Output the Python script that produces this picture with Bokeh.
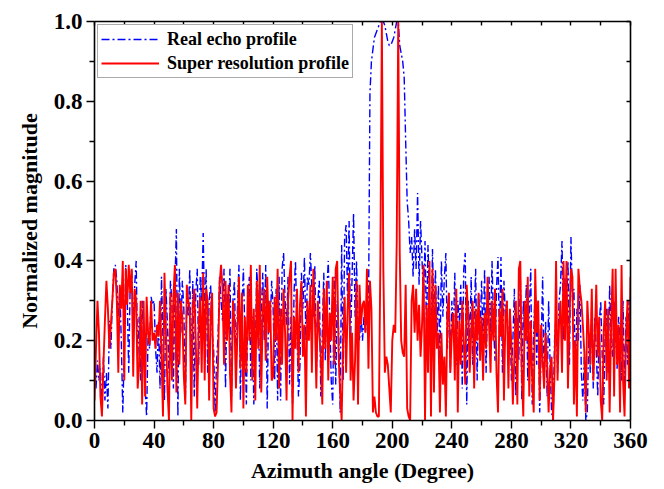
from bokeh.plotting import figure
from bokeh.models import (ColumnDataSource, LinearAxis, FixedTicker, Legend, LegendItem, Range1d,
                          CustomJSTickFormatter)
from bokeh.embed import file_html
from bokeh.resources import INLINE

# Azimuth grid (degrees)
angle = list(range(0, 361))

# Real echo profile (blue dash-dot)
real_echo = [
    0.16, 0.08, 0.15, 0.10, 0.13, 0.03, 0.16, 0.05, 0.12, 0.03,
    0.25, 0.18, 0.30, 0.38, 0.39, 0.35, 0.26, 0.33, 0.20, 0.02,
    0.18, 0.39, 0.30, 0.12, 0.35, 0.38, 0.22, 0.34, 0.40, 0.15,
    0.26, 0.10, 0.30, 0.20, 0.08, 0.01, 0.22, 0.18, 0.31, 0.29,
    0.30, 0.18, 0.12, 0.25, 0.08, 0.36, 0.20, 0.05, 0.33, 0.24,
    0.12, 0.35, 0.30, 0.08, 0.34, 0.48, 0.01, 0.38, 0.22, 0.35,
    0.28, 0.05, 0.31, 0.26, 0.38, 0.10, 0.35, 0.06, 0.32, 0.38,
    0.14, 0.36, 0.30, 0.47, 0.25, 0.38, 0.12, 0.30, 0.34, 0.22,
    0.18, 0.02, 0.15, 0.21, 0.36, 0.30, 0.25, 0.38, 0.08, 0.32,
    0.26, 0.38, 0.06, 0.30, 0.35, 0.12, 0.28, 0.39, 0.05, 0.28,
    0.38, 0.22, 0.04, 0.31, 0.36, 0.10, 0.26, 0.04, 0.15, 0.38,
    0.30, 0.08, 0.27, 0.37, 0.20, 0.39, 0.03, 0.30, 0.24, 0.35,
    0.28, 0.10, 0.33, 0.05, 0.36, 0.05, 0.38, 0.42, 0.30, 0.24,
    0.36, 0.09, 0.26, 0.04, 0.32, 0.40, 0.22, 0.06, 0.14, 0.37,
    0.28, 0.41, 0.20, 0.36, 0.34, 0.42, 0.33, 0.26, 0.39, 0.12,
    0.30, 0.35, 0.06, 0.22, 0.37, 0.15, 0.32, 0.40, 0.26, 0.10,
    0.04, 0.36, 0.09, 0.30, 0.22, 0.02, 0.44, 0.10, 0.46, 0.49,
    0.30, 0.50, 0.20, 0.36, 0.52, 0.26, 0.40, 0.24, 0.20, 0.27,
    0.20, 0.26, 0.22, 0.27, 0.25, 0.82, 0.90, 0.93, 0.96, 0.97,
    0.98, 0.99, 1.00, 1.00, 1.00, 0.99, 0.97, 0.95, 0.94, 0.94,
    0.95, 0.96, 0.98, 1.00, 1.00, 0.94, 0.92, 0.90, 0.86, 0.70,
    0.55, 0.50, 0.42, 0.46, 0.36, 0.48, 0.38, 0.57, 0.34, 0.50,
    0.40, 0.30, 0.45, 0.22, 0.44, 0.30, 0.18, 0.43, 0.25, 0.38,
    0.20, 0.34, 0.15, 0.40, 0.26, 0.36, 0.42, 0.18, 0.32, 0.12,
    0.30, 0.22, 0.37, 0.14, 0.30, 0.25, 0.34, 0.08, 0.38, 0.42,
    0.04, 0.30, 0.20, 0.36, 0.14, 0.26, 0.38, 0.10, 0.32, 0.22,
    0.35, 0.18, 0.38, 0.12, 0.30, 0.36, 0.20, 0.40, 0.24, 0.15,
    0.33, 0.41, 0.20, 0.41, 0.12, 0.35, 0.26, 0.30, 0.14, 0.28,
    0.10, 0.20, 0.33, 0.06, 0.26, 0.15, 0.36, 0.05, 0.30, 0.20,
    0.34, 0.10, 0.27, 0.38, 0.04, 0.22, 0.33, 0.14, 0.30, 0.02,
    0.18, 0.36, 0.10, 0.25, 0.06, 0.30, 0.14, 0.02, 0.00, 0.20,
    0.26, 0.12, 0.30, 0.34, 0.45, 0.20, 0.36, 0.28, 0.40, 0.14,
    0.46, 0.30, 0.33, 0.10, 0.28, 0.20, 0.34, 0.12, 0.05, 0.16,
    0.00, 0.02, 0.22, 0.12, 0.30, 0.08, 0.26, 0.18, 0.06, 0.24,
    0.30, 0.16, 0.04, 0.22, 0.28, 0.12, 0.34, 0.20, 0.16, 0.30,
    0.22, 0.13, 0.26, 0.20, 0.10, 0.30, 0.08, 0.26, 0.14, 0.30,
    0.20,
]

# Super resolution profile (red solid)
super_res = [
    0.05, 0.18, 0.30, 0.22, 0.06, 0.01, 0.14, 0.25, 0.35, 0.28,
    0.18, 0.24, 0.30, 0.37, 0.38, 0.30, 0.12, 0.34, 0.28, 0.40,
    0.10, 0.38, 0.29, 0.39, 0.32, 0.38, 0.11, 0.33, 0.30, 0.08,
    0.14, 0.30, 0.04, 0.30, 0.06, 0.31, 0.22, 0.19, 0.30, 0.20,
    0.22, 0.18, 0.24, 0.21, 0.30, 0.16, 0.01, 0.37, 0.22, 0.08,
    0.00, 0.32, 0.10, 0.31, 0.39, 0.07, 0.32, 0.14, 0.30, 0.26,
    0.11, 0.04, 0.34, 0.30, 0.28, 0.00, 0.28, 0.33, 0.20, 0.03,
    0.24, 0.31, 0.12, 0.37, 0.10, 0.33, 0.30, 0.05, 0.26, 0.32,
    0.03, 0.01, 0.02, 0.15, 0.34, 0.39, 0.33, 0.14, 0.35, 0.20,
    0.34, 0.12, 0.02, 0.30, 0.25, 0.08, 0.22, 0.36, 0.13, 0.32,
    0.03, 0.26, 0.12, 0.34, 0.20, 0.39, 0.10, 0.28, 0.05, 0.35,
    0.18, 0.39, 0.07, 0.27, 0.33, 0.15, 0.36, 0.22, 0.30, 0.10,
    0.11, 0.31, 0.20, 0.38, 0.08, 0.28, 0.14, 0.33, 0.22, 0.05,
    0.30, 0.36, 0.40, 0.00, 0.26, 0.18, 0.33, 0.12, 0.29, 0.35,
    0.16, 0.24, 0.01, 0.30, 0.20, 0.34, 0.12, 0.38, 0.26, 0.08,
    0.30, 0.22, 0.16, 0.04, 0.33, 0.18, 0.35, 0.10, 0.27, 0.20,
    0.36, 0.14, 0.38, 0.40, 0.16, 0.07, 0.00, 0.20, 0.31, 0.12,
    0.28, 0.37, 0.10, 0.22, 0.05, 0.15, 0.35, 0.04, 0.34, 0.24,
    0.29, 0.30, 0.22, 0.38, 0.13, 0.35, 0.28, 0.02, 0.06, 0.02,
    0.01, 0.01, 0.40, 1.00, 0.38, 0.12, 0.16, 0.14, 0.08, 0.02,
    0.20, 0.24, 0.22, 0.45, 1.00, 0.42, 0.20, 0.17, 0.16, 0.34,
    0.03, 0.01, 0.00, 0.30, 0.34, 0.22, 0.33, 0.20, 0.29, 0.16,
    0.24, 0.39, 0.00, 0.29, 0.12, 0.40, 0.01, 0.38, 0.07, 0.34,
    0.18, 0.22, 0.02, 0.22, 0.09, 0.16, 0.01, 0.27, 0.32, 0.12,
    0.22, 0.27, 0.10, 0.33, 0.02, 0.25, 0.14, 0.30, 0.20, 0.09,
    0.34, 0.26, 0.12, 0.22, 0.30, 0.08, 0.28, 0.20, 0.32, 0.15,
    0.26, 0.10, 0.27, 0.18, 0.36, 0.24, 0.12, 0.30, 0.20, 0.33,
    0.12, 0.02, 0.28, 0.21, 0.33, 0.05, 0.26, 0.30, 0.08, 0.28,
    0.19, 0.04, 0.16, 0.30, 0.04, 0.38, 0.40, 0.12, 0.01, 0.30,
    0.20, 0.36, 0.06, 0.25, 0.10, 0.02, 0.38, 0.22, 0.30, 0.05,
    0.24, 0.15, 0.08, 0.22, 0.14, 0.02, 0.13, 0.16, 0.00, 0.12,
    0.40, 0.10, 0.24, 0.30, 0.12, 0.40, 0.20, 0.40, 0.08, 0.25,
    0.38, 0.36, 0.04, 0.20, 0.01, 0.38, 0.33, 0.30, 0.24, 0.17,
    0.02, 0.30, 0.22, 0.14, 0.33, 0.10, 0.20, 0.34, 0.16, 0.26,
    0.05, 0.00, 0.22, 0.30, 0.10, 0.28, 0.02, 0.24, 0.38, 0.06,
    0.38, 0.14, 0.24, 0.02, 0.39, 0.10, 0.01, 0.21, 0.30, 0.08,
    0.36,
]

x_major = [0, 40, 80, 120, 160, 200, 240, 280, 320, 360]
x_minor = [20, 60, 100, 140, 180, 220, 260, 300, 340]
y_major = [0.0, 0.2, 0.4, 0.6, 0.8, 1.0]
y_minor = [0.1, 0.3, 0.5, 0.7, 0.9]

legend_labels = ["Real echo profile", "Super resolution profile"]
x_title = "Azimuth angle (Degree)"
y_title = "Normalized magnitude"

FONT = "Liberation Serif"

src = ColumnDataSource(dict(angle=angle, real=real_echo, sr=super_res))

p = figure(width=664, height=489, output_backend="svg", toolbar_location=None,
           x_range=Range1d(0, 360), y_range=Range1d(0, 1.0),
           min_border_left=94, min_border_right=34, min_border_top=21, min_border_bottom=69,
           x_axis_location=None, y_axis_location=None)
p.outline_line_color = None
p.xgrid.visible = False
p.ygrid.visible = False
p.background_fill_color = "white"
p.border_fill_color = "white"

r_blue = p.line("angle", "real", source=src, line_color="#0000FF", line_width=1.4,
                line_dash="8 3 2 3")
r_red = p.line("angle", "sr", source=src, line_color="#FF0000", line_width=1.9)


def styled_axis(ticker, side):
    ax = LinearAxis(ticker=ticker)
    ax.axis_line_color = "black"
    ax.axis_line_width = 1.6
    ax.major_tick_line_color = "black"
    ax.minor_tick_line_color = "black"
    ax.major_tick_line_width = 1.4
    ax.minor_tick_line_width = 1.4
    ax.major_label_text_font = FONT
    ax.major_label_text_font_style = "bold"
    ax.major_label_text_color = "black"
    ax.axis_label_text_font = FONT
    ax.axis_label_text_font_style = "bold"
    ax.axis_label_text_color = "black"
    if side in ("left", "below"):
        ax.major_tick_in = 0
        ax.major_tick_out = 8
        ax.minor_tick_in = 0
        ax.minor_tick_out = 5
        ax.major_label_text_font_size = "23px"
        ax.axis_label_text_font_size = "22px"
    else:
        ax.major_tick_in = 4
        ax.major_tick_out = 0
        ax.minor_tick_in = 4
        ax.minor_tick_out = 0
        ax.major_label_text_font_size = "0px"
        ax.major_label_overrides = {t: "" for t in ticker.ticks}
    p.add_layout(ax, side)
    return ax


xb = styled_axis(FixedTicker(ticks=x_major, minor_ticks=x_minor), "below")
xb.axis_label = x_title
xb.major_label_standoff = 4
xb.axis_label_standoff = 7
yl = styled_axis(FixedTicker(ticks=y_major, minor_ticks=y_minor), "left")
yl.axis_label = y_title
yl.major_label_standoff = 4
yl.axis_label_standoff = 9
yl.formatter = CustomJSTickFormatter(code="return tick.toFixed(1);")
styled_axis(FixedTicker(ticks=x_major, minor_ticks=x_minor), "above")
styled_axis(FixedTicker(ticks=y_major, minor_ticks=y_minor), "right")

legend = Legend(items=[LegendItem(label=legend_labels[0], renderers=[r_blue]),
                       LegendItem(label=legend_labels[1], renderers=[r_red])])
legend.location = "top_left"
legend.margin = 3
legend.padding = 3
legend.spacing = 2
legend.glyph_width = 58
legend.glyph_height = 22
legend.label_height = 22
legend.label_standoff = 8
legend.label_text_font = FONT
legend.label_text_font_style = "bold"
legend.label_text_font_size = "18px"
legend.label_text_color = "black"
legend.border_line_color = "#555555"
legend.border_line_width = 1.5
legend.background_fill_color = "white"
legend.background_fill_alpha = 1.0
p.add_layout(legend)

open("out.html", "w").write(file_html(p, INLINE))
